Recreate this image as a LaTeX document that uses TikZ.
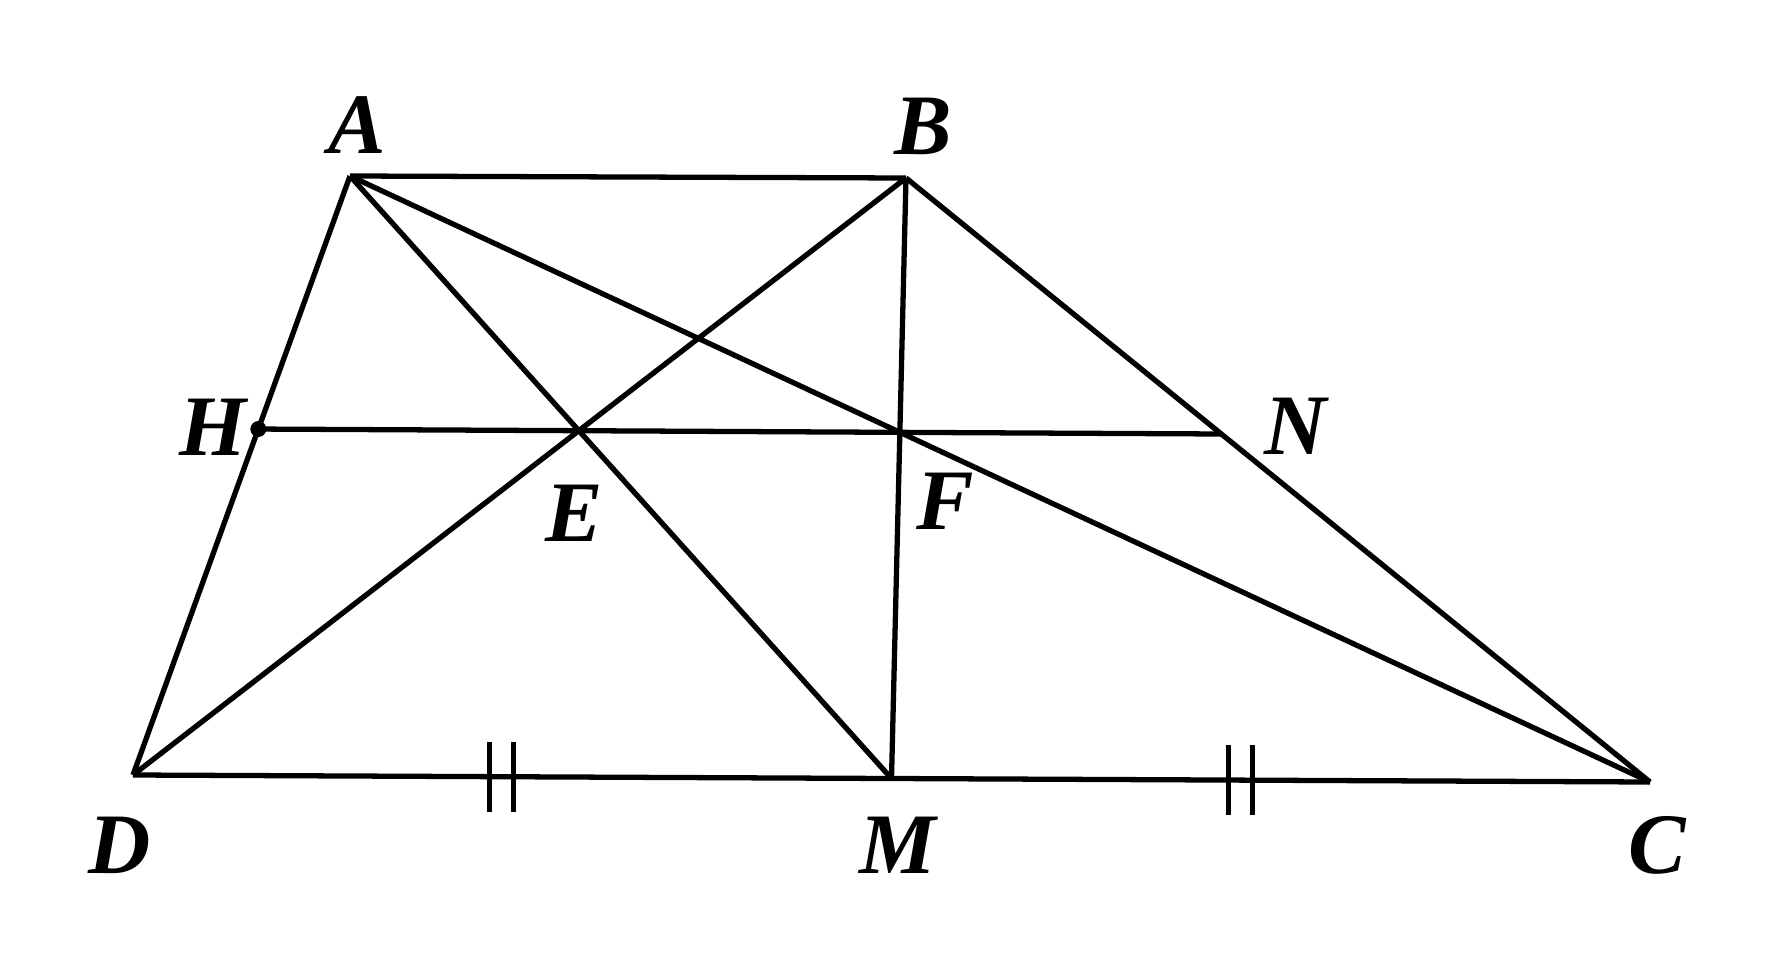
\documentclass[tikz,border=0pt]{standalone}
\usepackage{fontspec}
\setmainfont{Liberation Serif}
\usepackage{tikz}
\usetikzlibrary{calc}

\begin{document}
\begin{tikzpicture}[x=0.01cm,y=-0.01cm,line width=1.5pt,
  lbl/.style={font=\fontsize{24.5}{28}\selectfont\bfseries\itshape, inner sep=0pt},
  tick/.style={line width=1.4pt}]
\useasboundingbox (0,0) rectangle (1782,976);

\coordinate (A) at (350,176);
\coordinate (B) at (906,178);
\coordinate (C) at (1650,782);
\coordinate (D) at (133,775);
\coordinate (M) at ($(D)!0.5!(C)$);
\coordinate (E) at (intersection of A--M and B--D);
\coordinate (F) at (intersection of A--C and B--M);
\coordinate (H) at (intersection of A--D and E--F);
\coordinate (N) at (intersection of B--C and E--F);

\draw (A) -- (B);
\draw (B) -- (C);
\draw (D) -- (C);
\draw (A) -- (D);
\draw (A) -- (C);
\draw (A) -- (M);
\draw (B) -- (D);
\draw (B) -- (M);
\draw (H) -- (N);
\fill (H) circle (8);

% equal marks on DM and MC
\coordinate (T1) at ($(D)!0.243!(C)$);
\coordinate (T2) at ($(D)!0.730!(C)$);
\foreach \t in {T1,T2}{
  \draw[tick] ($(\t)+(-12,-35)$) -- ($(\t)+(-12,35)$);
  \draw[tick] ($(\t)+(12,-35)$) -- ($(\t)+(12,35)$);
}

\node[lbl] (lA) at (357,125) {A};
\node[lbl] (lB) at (923,126) {B};
\node[lbl] (lC) at (1657,845) {C};
\node[lbl] (lD) at (120,845) {D};
\node[lbl] (lM) at (898,845) {M};
\node[lbl] (lH) at (213,427) {H};
\node[lbl] (lE) at (574,513) {E};
\node[lbl] (lF) at (945,501) {F};
\node[lbl] (lN) at (1296,426) {N};
\end{tikzpicture}
\end{document}
